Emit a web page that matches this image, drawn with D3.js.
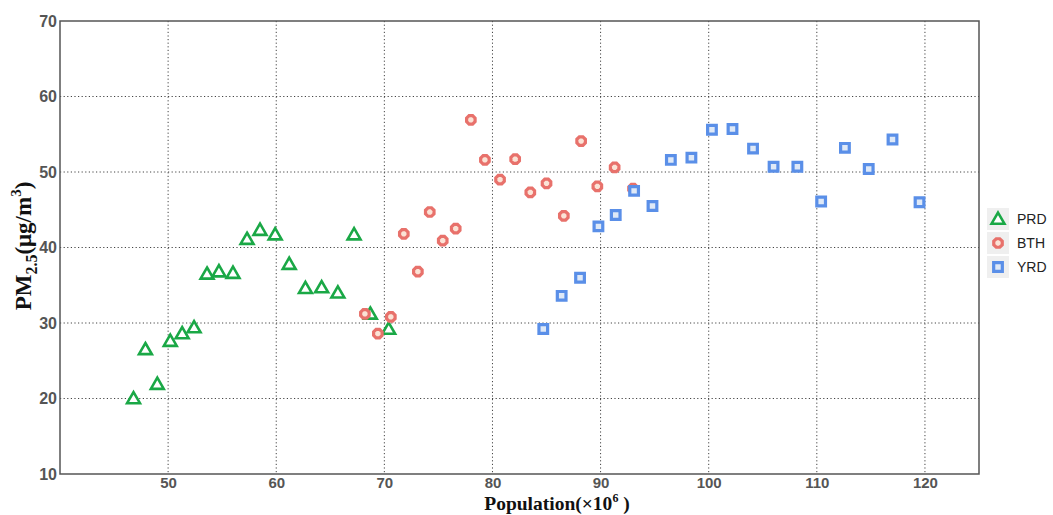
<!DOCTYPE html>
<html>
<head>
<meta charset="utf-8">
<script src="https://cdn.jsdelivr.net/npm/d3@7"></script>
<style>
  body { margin: 0; background: #fff; }
  .grid line { stroke: #444; stroke-dasharray: 1.2,2.4; stroke-width: 1; }
  .tick text { font-family: "Liberation Sans", Arial, sans-serif; font-weight: bold; fill: #555; font-size: 16px; }
  .xaxis .tick text { font-size: 15px; }
</style>
</head>
<body>
<div class="scatterplot"></div>
<script>
// Chart size
let width = 1053;
let height = 515;

// Margins around the plot box
let margin = { top: 21, right: 74, bottom: 41, left: 60 };

// Series names and values
const seriesNames = ["PRD", "BTH", "YRD"];

const prdPop = [46.8, 47.9, 49.0, 50.2, 51.3, 52.4, 53.6, 54.7, 56.0, 57.3, 58.5, 59.9, 61.2, 62.7, 64.2, 65.7, 67.2, 68.7, 70.4];
const prdPm = [20.0, 26.5, 21.9, 27.6, 28.6, 29.4, 36.5, 36.8, 36.6, 41.1, 42.3, 41.7, 37.8, 34.6, 34.7, 34.0, 41.7, 31.2, 29.2];

const bthPop = [68.2, 69.4, 70.6, 71.8, 73.1, 74.2, 75.4, 76.6, 78.0, 79.3, 80.7, 82.1, 83.5, 85.0, 86.6, 88.2, 89.7, 91.3, 93.0];
const bthPm = [31.2, 28.6, 30.8, 41.8, 36.8, 44.7, 40.9, 42.5, 56.9, 51.6, 49.0, 51.7, 47.3, 48.5, 44.2, 54.1, 48.1, 50.6, 47.8];

const yrdPop = [84.7, 86.4, 88.1, 89.8, 91.4, 93.1, 94.8, 96.5, 98.4, 100.3, 102.2, 104.1, 106.0, 108.2, 110.4, 112.6, 114.8, 117.0, 119.5];
const yrdPm = [29.2, 33.6, 36.0, 42.8, 44.3, 47.5, 45.5, 51.6, 51.9, 55.6, 55.7, 53.1, 50.7, 50.7, 46.1, 53.2, 50.4, 54.3, 46.0];

const xTicks = [50, 60, 70, 80, 90, 100, 110, 120];
const yTicks = [10, 20, 30, 40, 50, 60, 70];

// Colours per series
const colors = { PRD: "#1aa846", BTH: "#e8716b", YRD: "#5a8fe8" };
const fills = { PRD: "#ffffff", BTH: "#fbe3d6", YRD: "#dfe9f7" };

// Build one table from the arrays
let points = [];
prdPop.forEach((d, i) => points.push({ group: "PRD", pop: d, pm: prdPm[i] }));
bthPop.forEach((d, i) => points.push({ group: "BTH", pop: d, pm: bthPm[i] }));
yrdPop.forEach((d, i) => points.push({ group: "YRD", pop: d, pm: yrdPm[i] }));

let svg = d3.select(".scatterplot").append("svg")
    .attr("width", width)
    .attr("height", height);

let innerW = width - margin.left - margin.right;
let innerH = height - margin.top - margin.bottom;

const xScale = d3.scaleLinear().domain([40, 125]).range([0, innerW]);
const yScale = d3.scaleLinear().domain([10, 70]).range([innerH, 0]);

let plot = svg.append("g")
    .attr("transform", `translate(${margin.left}, ${margin.top})`);

// Dotted grid lines
plot.append("g").attr("class", "grid")
    .selectAll("line").data(xTicks).enter().append("line")
    .attr("x1", d => xScale(d)).attr("x2", d => xScale(d))
    .attr("y1", 0).attr("y2", innerH);

plot.append("g").attr("class", "grid")
    .selectAll("line").data(yTicks.slice(1, -1)).enter().append("line")
    .attr("x1", 0).attr("x2", innerW)
    .attr("y1", d => yScale(d)).attr("y2", d => yScale(d));

// Axes with tick labels only
let xAxis = plot.append("g")
    .attr("class", "xaxis")
    .attr("transform", `translate(0, ${innerH})`)
    .call(d3.axisBottom(xScale).tickValues(xTicks).tickSize(0).tickPadding(3));
xAxis.select(".domain").remove();

let yAxis = plot.append("g")
    .call(d3.axisLeft(yScale).tickValues(yTicks).tickSize(0).tickPadding(3));
yAxis.select(".domain").remove();

// Plot frame
plot.append("rect")
    .attr("width", innerW).attr("height", innerH)
    .attr("fill", "none").attr("stroke", "#555").attr("stroke-width", 1.5);

// Octagon shape for BTH
const octagon = {
    draw(context, size) {
        let r = Math.sqrt(size / 2.83);
        for (let k = 0; k < 8; k++) {
            let a = Math.PI / 8 + k * Math.PI / 4;
            if (k == 0) context.moveTo(r * Math.cos(a), r * Math.sin(a));
            else context.lineTo(r * Math.cos(a), r * Math.sin(a));
        }
        context.closePath();
    }
};

// Marker shapes
const symbols = {
    PRD: d3.symbol().type(d3.symbolTriangle).size(72),
    BTH: d3.symbol().type(octagon).size(60),
    YRD: d3.symbol().type(d3.symbolSquare).size(75)
};

function drawMarker(sel, group) {
    sel.attr("d", symbols[group]())
        .attr("fill", fills[group])
        .attr("stroke", colors[group])
        .attr("stroke-width", group == "PRD" ? 2.6 : 3.2)
        .attr("stroke-linejoin", "miter");
}

["PRD", "BTH", "YRD"].forEach(group => {
    plot.selectAll(".m-" + group)
        .data(points.filter(p => p.group == group))
        .enter().append("path")
        .attr("class", "m-" + group)
        .attr("transform", d => `translate(${xScale(d.pop)}, ${yScale(d.pm) + (group == "PRD" ? 1 : 0)})`)
        .each(function () { drawMarker(d3.select(this), group); });
});

// Legend
let legend = svg.append("g").attr("transform", "translate(987, 208)");
seriesNames.forEach((name, i) => {
    let row = legend.append("g").attr("transform", `translate(0, ${i * 24})`);
    row.append("rect").attr("x", 0).attr("y", 0).attr("width", 22).attr("height", 22).attr("fill", "#efefef");
    row.append("path")
        .attr("transform", `translate(11, ${name == "PRD" ? 12 : 11})`)
        .call(s => drawMarker(s, name));
    row.append("text")
        .attr("x", 30).attr("y", 16)
        .attr("font-family", "Liberation Sans, Arial, sans-serif")
        .attr("font-size", 14).attr("fill", "#222")
        .text(name);
});

// Axis titles
let xTitle = svg.append("text")
    .attr("x", 557).attr("y", 510)
    .attr("text-anchor", "middle")
    .attr("font-family", "Liberation Serif, Times New Roman, serif")
    .attr("font-weight", "bold").attr("font-size", 19.5).attr("fill", "#111");
xTitle.append("tspan").text("Population(×10");
xTitle.append("tspan").attr("font-size", 12).attr("dy", -8).text("6");
xTitle.append("tspan").attr("dy", 8).text(" )");

let yTitle = svg.append("text")
    .attr("transform", "translate(31, 246) rotate(-90)")
    .attr("text-anchor", "middle")
    .attr("font-family", "Liberation Serif, Times New Roman, serif")
    .attr("font-weight", "bold").attr("font-size", 23).attr("fill", "#111");
yTitle.append("tspan").text("PM");
yTitle.append("tspan").attr("font-size", 16).attr("dy", 6).text("2.5");
yTitle.append("tspan").attr("dy", -6).text("(μg/m");
yTitle.append("tspan").attr("font-size", 15).attr("dy", -10).text("3");
yTitle.append("tspan").attr("dy", 10).text(")");
</script>
</body>
</html>
